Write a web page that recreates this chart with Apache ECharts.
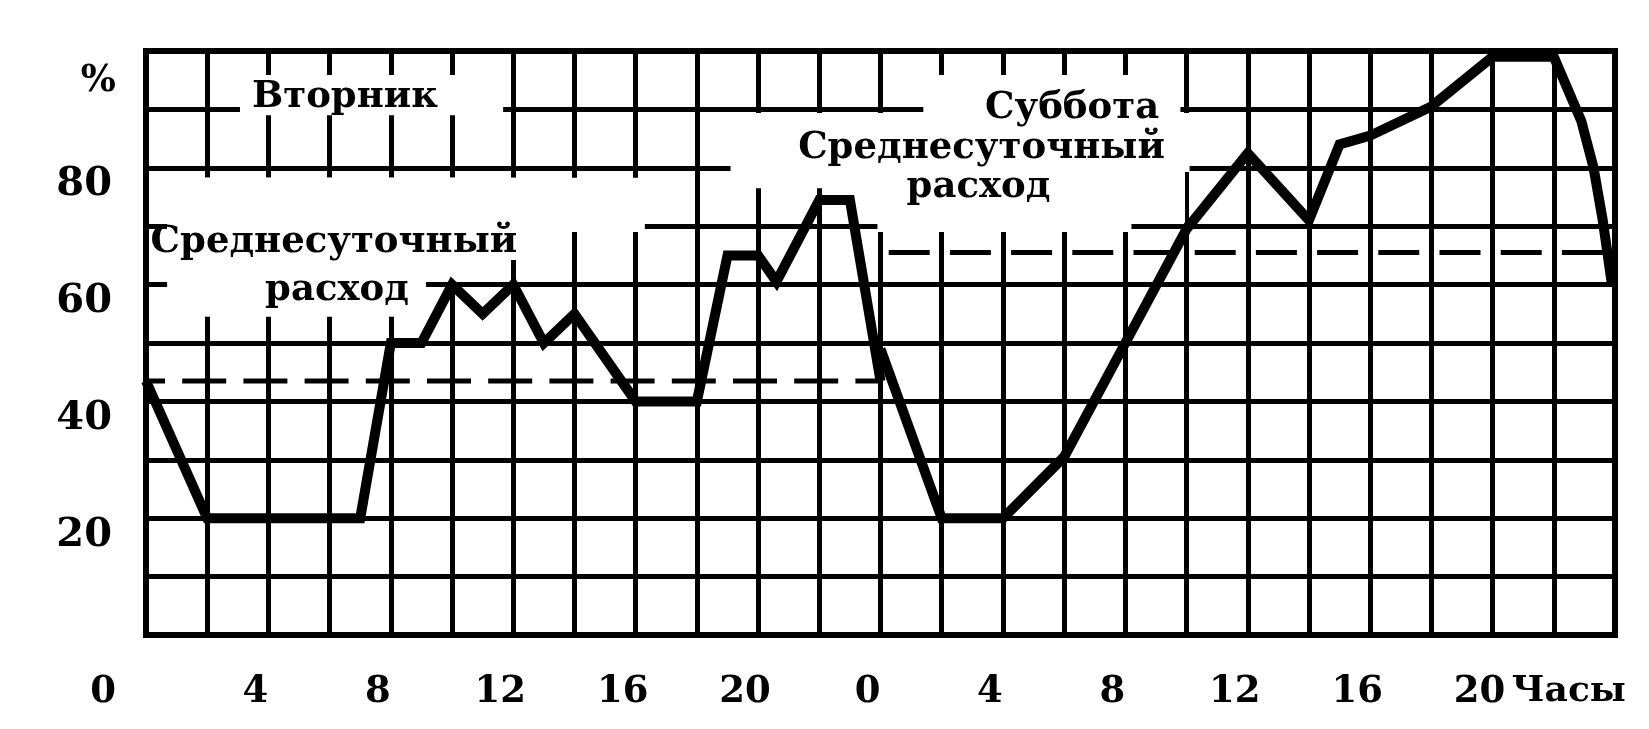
<!DOCTYPE html>
<html>
<head>
<meta charset="utf-8">
<script src="https://cdn.jsdelivr.net/npm/echarts@6/dist/echarts.min.js"></script>
<style>
  html, body { margin: 0; padding: 0; background: #fff; }
  #chart { width: 1649px; height: 729px; }
</style>
</head>
<body>
<div id="chart"></div>
<script>
// ---------- DATA ----------
// Tuesday: hour of day -> consumption, %
const tuesdayHours  = [0, 2, 7, 8, 9, 10, 11, 12, 13, 14, 16, 18, 19, 20, 20.6, 22, 23, 24];
const tuesdayValues = [43.5, 20, 20, 50, 50, 60, 55, 60, 50, 55, 40, 40, 65, 65, 60.5, 74.5, 74.5, 43.5];
// Saturday: hour of day -> consumption, %
const saturdayHours  = [0, 2, 4, 6, 8, 10, 12, 14, 15, 16, 18, 20, 22, 22.9, 23.3, 23.6, 23.9];
const saturdayValues = [49, 20, 20, 30.5, 50, 69.5, 82.5, 71, 84, 85.5, 90.5, 99, 99, 88, 80, 71, 60];
// Daily averages (dashed lines), %
const tuesdayAverage  = 43.5;
const saturdayAverage = 65.5;
// Axis labels
const xTickHours  = [0, 4, 8, 12, 16, 20, 24, 28, 32, 36, 40, 44];
const xTickLabels = ['0', '4', '8', '12', '16', '20', '0', '4', '8', '12', '16', '20'];
const xUnitLabel  = 'Часы';
const yTickLabels = ['20', '40', '60', '80'];
const yUnitLabel  = '%';
// Annotation texts
const labelTuesday   = 'Вторник';
const labelSaturday  = 'Суббота';
const labelAvgLine1  = 'Среднесуточный';
const labelAvgLine2  = 'расход';

// ---------- LAYOUT (not data) ----------
const DAY = 24;                 // Saturday is drawn after Tuesday on one 48 h axis
const FONT = '"DejaVu Serif", serif';
// white boxes in axis units [hour, %] that clear the grid behind the texts
const maskBoxes = [
  [[3.07, 95.9], [11.67, 89.0]],
  [[0.69, 78.3], [16.3, 69.0]],
  [[0.69, 78.3], [12.2, 64.2]],
  [[0.69, 78.3], [9.15, 54.5]],
  [[9.15, 78.3], [10.9, 60.6]],
  [[25.4, 95.9], [33.8, 89.3]],
  [[19.1, 89.4], [34.1, 79.3]],
  [[19.1, 79.3], [23.3, 76.5]],
  [[23.3, 79.3], [33.95, 70.6]],
  [[23.9, 74.5], [32.2, 69.0]]
];
// annotation anchors in axis units [hour, %]
const annotations = [
  { name: labelTuesday,  value: [6.5, 92.0] },
  { name: labelAvgLine1, value: [6.14, 67.2] },
  { name: labelAvgLine2, value: [6.24, 59.0] },
  { name: labelSaturday, value: [30.26, 90.2] },
  { name: labelAvgLine1, value: [27.3, 83.3] },
  { name: labelAvgLine2, value: [27.2, 76.6] }
];

const tuesdaySeries  = tuesdayHours.map((h, i) => [h, tuesdayValues[i]]);
const saturdaySeries = saturdayHours.map((h, i) => [h + DAY, saturdayValues[i]]);

const chart = echarts.init(document.getElementById('chart'), null, { renderer: 'canvas' });

const option = {
  animation: false,
  backgroundColor: '#fff',
  grid: {
    left: 146, right: 34, top: 51, bottom: 94,
    show: true, borderColor: '#000', borderWidth: 6, backgroundColor: 'transparent',
    containLabel: false, outerBoundsMode: 'none'
  },
  xAxis: {
    type: 'value', min: 0, max: 2 * DAY, interval: 2,
    axisLine: { show: false }, axisTick: { show: false },
    splitLine: { show: true, lineStyle: { color: '#000', width: 5 } },
    axisLabel: {
      margin: 39, color: '#000', fontFamily: FONT, fontWeight: 'bold', fontSize: 37,
      formatter: function (v) {
        const i = xTickHours.indexOf(v);
        if (i === 0) return '{f|' + xTickLabels[0] + '}';
        if (i > 0) return '{n|' + xTickLabels[i] + '}';
        if (v === 46) return '{u|' + xUnitLabel + '}';
        return '';
      },
      rich: {
        f: { padding: [0, 86, 0, 0], fontFamily: FONT, fontWeight: 'bold', fontSize: 37, color: '#000' },
        n: { padding: [0, 26, 0, 0], fontFamily: FONT, fontWeight: 'bold', fontSize: 37, color: '#000' },
        u: { padding: [0, 0, 0, 30], fontFamily: FONT, fontWeight: 'bold', fontSize: 36, color: '#000' }
      }
    }
  },
  yAxis: {
    type: 'value', min: 0, max: 100, interval: 10,
    name: yUnitLabel, nameLocation: 'end', nameGap: -30,
    nameTextStyle: { color: '#000', fontFamily: FONT, fontWeight: 'bold', fontSize: 37,
      align: 'right', verticalAlign: 'middle', padding: [0, 30, 0, 0] },
    axisLine: { show: false }, axisTick: { show: false },
    splitLine: { show: true, lineStyle: { color: '#000', width: 5 } },
    axisLabel: {
      margin: 34, color: '#000', fontFamily: FONT, fontWeight: 'bold', fontSize: 40,
      formatter: function (v) {
        return yTickLabels.indexOf(String(v)) >= 0 ? '{y|' + v + '}' : '';
      },
      rich: { y: { padding: [34, 0, 0, 0], fontFamily: FONT, fontWeight: 'bold', fontSize: 40, color: '#000' } }
    }
  },
  series: [
    {
      type: 'line', z: 1, silent: true, data: [], symbol: 'none',
      markArea: {
        silent: true,
        itemStyle: { color: '#fff', borderWidth: 0, opacity: 1 },
        data: maskBoxes.map(b => [{ coord: b[0] }, { coord: b[1] }])
      }
    },
    {
      type: 'line', z: 3, silent: true, symbol: 'none',
      data: [[0, tuesdayAverage], [DAY, tuesdayAverage]],
      lineStyle: { color: '#000', width: 5, type: [44, 17.2], dashOffset: 25 }
    },
    {
      type: 'line', z: 3, silent: true, symbol: 'none',
      data: [[DAY, saturdayAverage], [2 * DAY, saturdayAverage]],
      lineStyle: { color: '#000', width: 5, type: [41, 20.2], dashOffset: 53 }
    },
    {
      type: 'line', z: 4, silent: true, symbol: 'none', data: tuesdaySeries,
      lineStyle: { color: '#000', width: 10, join: 'miter' }
    },
    {
      type: 'line', z: 4, silent: true, symbol: 'none', data: saturdaySeries,
      lineStyle: { color: '#000', width: 10, join: 'miter' }
    },
    {
      type: 'scatter', z: 5, silent: true, symbolSize: 0.01,
      itemStyle: { color: '#000', opacity: 1 },
      data: annotations,
      label: {
        show: true, position: 'inside', formatter: '{b}', opacity: 1,
        color: '#000', fontFamily: FONT, fontWeight: 'bold', fontSize: 37,
        align: 'center', verticalAlign: 'middle', textBorderWidth: 0
      }
    }
  ]
};
chart.setOption(option);
</script>
</body>
</html>
